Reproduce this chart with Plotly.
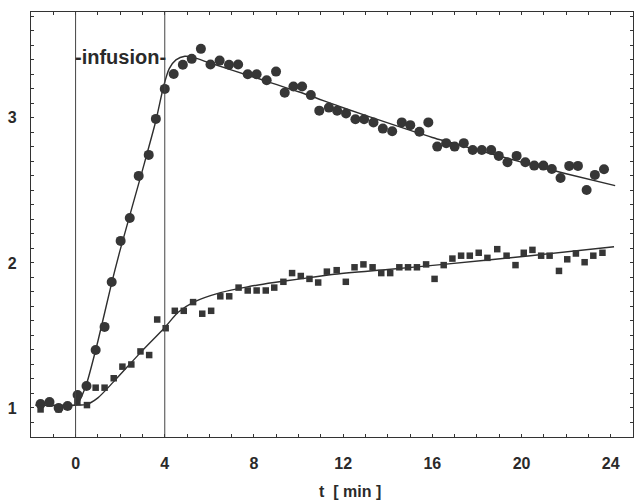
import plotly.graph_objects as go

# Measured concentration, circles (time in min, relative level)
t_circle = [-1.57, -1.17, -0.76, -0.36, 0.09, 0.49, 0.90, 1.30, 1.62, 2.02,
            2.43, 2.83, 3.28, 3.60, 4.00, 4.40, 4.81, 5.21, 5.62, 6.05,
            6.46, 6.88, 7.29, 7.72, 8.12, 8.57, 8.99, 9.38, 9.77, 10.16,
            10.55, 10.93, 11.36, 11.73, 12.13, 12.55, 12.94, 13.36, 13.78, 14.20,
            14.63, 15.01, 15.42, 15.82, 16.22, 16.62, 17.00, 17.41, 17.81, 18.22,
            18.64, 18.98, 19.37, 19.78, 20.17, 20.57, 20.98, 21.36, 21.75, 22.14,
            22.53, 22.92, 23.29, 23.70]
v_circle = [1.028, 1.041, 1.000, 1.014, 1.090, 1.152, 1.400, 1.559, 1.869, 2.152,
            2.310, 2.600, 2.745, 2.993, 3.200, 3.303, 3.366, 3.407, 3.476, 3.368,
            3.395, 3.366, 3.368, 3.301, 3.301, 3.260, 3.319, 3.174, 3.216, 3.216,
            3.157, 3.050, 3.071, 3.050, 3.030, 2.991, 2.991, 2.968, 2.926, 2.908,
            2.969, 2.950, 2.905, 2.969, 2.802, 2.826, 2.802, 2.826, 2.779, 2.779,
            2.779, 2.738, 2.694, 2.738, 2.694, 2.671, 2.671, 2.648, 2.586, 2.669,
            2.669, 2.503, 2.607, 2.646]

# Measured concentration, squares
t_square = [-1.57, -1.17, -0.76, -0.36, 0.08, 0.51, 0.90, 1.30, 1.71, 2.10,
            2.50, 2.91, 3.30, 3.66, 4.04, 4.45, 4.85, 5.27, 5.68, 6.08,
            6.49, 6.89, 7.31, 7.72, 8.12, 8.53, 8.91, 9.32, 9.71, 10.10,
            10.49, 10.88, 11.27, 11.71, 12.12, 12.51, 12.91, 13.32, 13.71, 14.11,
            14.52, 14.91, 15.31, 15.72, 16.10, 16.51, 16.90, 17.29, 17.68, 18.08,
            18.47, 18.91, 19.33, 19.73, 20.10, 20.49, 20.88, 21.26, 21.68, 22.05,
            22.44, 22.83, 23.22, 23.63]
v_square = [0.99, 1.03, 0.99, 1.01, 1.04, 1.02, 1.14, 1.14, 1.205, 1.285,
            1.30, 1.39, 1.365, 1.61, 1.55, 1.67, 1.67, 1.73, 1.65, 1.67,
            1.77, 1.77, 1.83, 1.81, 1.81, 1.81, 1.83, 1.87, 1.93, 1.91,
            1.89, 1.865, 1.94, 1.95, 1.87, 1.97, 1.99, 1.97, 1.93, 1.93,
            1.97, 1.97, 1.97, 1.99, 1.89, 1.985, 2.03, 2.05, 2.05, 2.07,
            2.035, 2.095, 2.05, 1.985, 2.07, 2.09, 2.05, 2.05, 1.945, 2.025,
            2.065, 2.005, 2.05, 2.07]

# Model fits
fit_circle_t = [-1.8, 0.0, 0.1, 0.3, 0.5, 1.0, 1.6, 2.0, 3.0, 3.6, 3.95, 4.2,
                4.5, 4.9, 5.3, 6.0, 8.0, 10.0, 12.0, 14.0, 16.0, 18.0, 20.0, 22.0, 24.2]
fit_circle_v = [1.02, 1.02, 1.03, 1.09, 1.17, 1.46, 1.85, 2.09, 2.64, 2.98, 3.22, 3.34,
                3.40, 3.425, 3.415, 3.38, 3.28, 3.18, 3.07, 2.965, 2.865, 2.78, 2.695, 2.615, 2.533]
fit_square_t = [-1.8, 0.0, 0.5, 1.0, 1.7, 2.9, 4.0, 4.6, 5.3, 6.5, 7.7, 8.9,
                10.0, 11.5, 14.0, 16.5, 20.4, 24.15]
fit_square_v = [1.02, 1.02, 1.025, 1.07, 1.18, 1.38, 1.555, 1.66, 1.73, 1.795, 1.835, 1.865,
                1.888, 1.92, 1.955, 1.99, 2.05, 2.112]

x_ticks = [0, 4, 8, 12, 16, 20, 24]
y_ticks = [1, 2, 3]
infusion_start, infusion_end = 0, 4

ink = "#2e2e2e"

fig = go.Figure()
for ft, fv in [(fit_circle_t, fit_circle_v), (fit_square_t, fit_square_v)]:
    fig.add_trace(go.Scatter(x=ft, y=fv, mode="lines",
                             line=dict(color=ink, width=1.4, shape="spline", smoothing=0.7),
                             hoverinfo="skip", showlegend=False))
fig.add_trace(go.Scatter(x=t_square, y=v_square, mode="markers",
                         marker=dict(symbol="square", size=6.5, color="#363636", line=dict(width=0)),
                         showlegend=False))
fig.add_trace(go.Scatter(x=t_circle, y=v_circle, mode="markers",
                         marker=dict(symbol="circle", size=10, color="#363636", line=dict(width=0)),
                         showlegend=False))

# infusion period boundaries
for xv in (infusion_start, infusion_end):
    fig.add_shape(type="line", x0=xv, x1=xv, y0=0, y1=1, xref="x", yref="paper",
                  line=dict(color="#444", width=1))

fig.add_annotation(x=(infusion_start + infusion_end) / 2, y=3.42, text="<b>-infusion-</b>",
                   showarrow=False, xanchor="center", yanchor="middle",
                   font=dict(family="Liberation Sans Narrow, Arial Narrow, Liberation Sans, Arial",
                             size=20, color="#2a2a2a"))

fig.add_annotation(x=0.53, y=-0.128, xref="paper", yref="paper", text="<b>t  [ min ]</b>",
                   showarrow=False, xanchor="center", yanchor="middle",
                   font=dict(family="Liberation Sans, Arial", size=16, color="#2a2a2a"))

axis_common = dict(showline=True, linecolor="#333", linewidth=1.2, mirror="allticks",
                   ticks="inside", ticklen=3, tickcolor="#333", tickwidth=1,
                   showgrid=False, zeroline=False,
                   tickfont=dict(family="Liberation Sans, Arial", size=16, color="#2a2a2a",
                                 weight="bold"))

fig.update_xaxes(range=[-2, 25], tickvals=x_ticks, ticktext=[str(v) for v in x_ticks],
                 minor=dict(dtick=1, tick0=0, ticks="inside", ticklen=3, tickcolor="#333"),
                 ticklabelstandoff=12, **axis_common)
fig.update_yaxes(range=[0.8, 3.73], tickvals=y_ticks, ticktext=[str(v) for v in y_ticks],
                 minor=dict(dtick=0.1, tick0=0, ticks="inside", ticklen=3, tickcolor="#333"),
                 ticklabelstandoff=10, **axis_common)

fig.update_layout(width=635, height=504, margin=dict(l=31, r=2, t=12, b=67),
                  paper_bgcolor="white", plot_bgcolor="white", showlegend=False)

fig.write_html("out.html")
